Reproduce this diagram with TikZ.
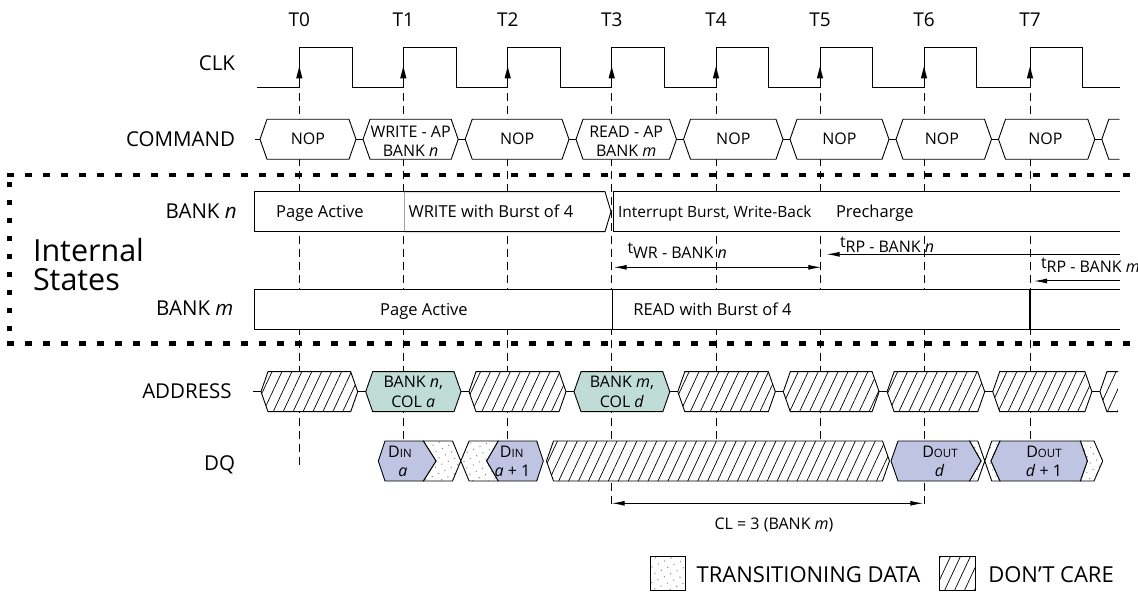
\documentclass[tikz,border=0pt]{standalone}
\usepackage{fontspec}
\setmainfont{Open Sans}
\usetikzlibrary{patterns.meta,arrows.meta}
\definecolor{addrfill}{RGB}{191,220,215}
\definecolor{dqfill}{RGB}{190,196,225}
\newcommand{\fs}[1]{\fontsize{#1}{#1}\selectfont}
% hexagonal bus segment: style, left tip, right tip, mid y, left slant, right slant
\newcommand{\hexseg}[6]{\path[#1] (#2,#4) -- ({#2+#5},{#4-20}) -- ({#3-#6},{#4-20}) -- (#3,#4) -- ({#3-#6},{#4+20}) -- ({#2+#5},{#4+20}) -- cycle;}
% open-ended bus segment: style, left tip, end x, mid y, slant
\newcommand{\openseg}[5]{\path[#1] (#3,{#4-20}) -- ({#2+#5},{#4-20}) -- (#2,#4) -- ({#2+#5},{#4+20}) -- (#3,{#4+20});}
% transition (X) region
\newcommand{\xtrans}[7]{\path[tr] (#1,{#7-20}) -- ({#3-#4},{#7-20}) -- (#3,#7) -- ({#3+#4},{#7-20}) -- (#2,{#7-20}) -- ({#2-#6},#7) -- (#2,{#7+20}) -- ({#3+#4},{#7+20}) -- (#3,#7) -- ({#3-#4},{#7+20}) -- (#1,{#7+20}) -- ({#1+#5},#7) -- cycle;}
\tikzset{
  every node/.style={inner sep=0pt, outer sep=0pt},
  wire/.style={draw, line width=0.9pt, line join=miter},
  tick/.style={line width=0.8pt, dash pattern=on 8pt off 5pt},
  border/.style={line width=4.5pt, dash pattern=on 7pt off 11pt},
  vborder/.style={line width=4.5pt, dash pattern=on 5pt off 13pt},
  wbox/.style={wire, fill=white},
  dc/.style={wire, preaction={fill=white}, pattern={Lines[angle=65,distance=9pt,line width=0.7pt]}, pattern color=black},
  tr/.style={wire, preaction={fill=white}, pattern={Dots[distance=7pt,radius=0.75pt,angle=25]}, pattern color=black!45},
  abox/.style={wire, fill=addrfill},
  dbox/.style={wire, fill=dqfill},
  arr/.style={line width=1pt},
  arrtip/.tip={Latex[length=13pt,width=5pt]},
  tl/.style={font=\fs{19}},
  lbl/.style={font=\fs{20.5}},
  cmdt/.style={font=\fs{16}},
  st/.style={font=\fs{16.5}},
  tt/.style={font=\fs{16}},
  big/.style={font=\fs{30.5}},
  leg/.style={font=\fs{22}},
}
\begin{document}
\begin{tikzpicture}[x=1pt,y=-1pt]
\useasboundingbox (0,0) rectangle (1138,593);
\clip (0,0) rectangle (1138,593);
\def\Tlist{299.3,403.3,507.7,611.7,716,820,924,1030}

% clock edge labels
\foreach \x [count=\i from 0] in \Tlist {\node[tl, anchor=base] (T\i) at (\x,26.8) {T\i};}

% vertical dashed reference lines
\foreach \x/\yb in {299.3/468, 403.3/481, 507.7/481, 611.7/505, 716/481, 820/481, 924/505, 1030/481}
  \draw[tick] (\x,93) -- (\x,\yb);

% clock
\draw[wire, fill=none] (257,87.3) \foreach \x in \Tlist { -- (\x,87.3) -- (\x,47.7) -- ({\x+52.7},47.7) -- ({\x+52.7},87.3) } -- (1119.5,87.3);
\foreach \x in \Tlist {\fill (\x,66.5) -- ({\x-3.2},78.5) -- ({\x+3.2},78.5) -- cycle;}

% row labels
\node[lbl, anchor=base east] (lclk) at (235,70.5) {CLK};
\node[lbl, anchor=base east] (lcmd) at (235,146.5) {COMMAND};
\node[lbl, anchor=base east] (lbn) at (236.7,219) {BANK \textit{n}};
\node[lbl, anchor=base east] (lbm) at (233.3,316) {BANK \textit{m}};
\node[lbl, anchor=base east] (ladr) at (231.7,399) {ADDRESS};
\node[lbl, anchor=base east] (ldq) at (235,470) {DQ};
\node[big, anchor=base west] (lint) at (33,261.7) {Internal};
\node[big, anchor=base west] (lsta) at (33,291) {States};

% internal states border
\draw[border] (7,175) -- (1138,175);
\draw[border] (7,343.3) -- (1138,343.3);
\draw[vborder] (9.5,182) -- (9.5,340);

% COMMAND row
\def\cy{139.3}
\draw[wire] (255,\cy) -- (260,\cy);
\foreach \l/\r in {260/356, 363/458.2, 465.2/569, 576/676.5, 683.5/783, 790/889, 896/991.5, 998.5/1094.8}
  {\hexseg{wbox}{\l}{\r}{\cy}{7}{7}}
\foreach \r/\l in {356/363, 458.2/465.2, 569/576, 676.5/683.5, 783/790, 889/896, 991.5/998.5, 1094.8/1101.8}
  \draw[wire] (\r,\cy) -- (\l,\cy);
\fill[white] (1108.8,119.3) rectangle (1119.5,159.3);
\openseg{wire}{1101.8}{1119.5}{\cy}{7}
\node[cmdt, anchor=base] (c0) at (308,145) {NOP};
\node[cmdt, anchor=base] (c1a) at (410.6,137.4) {WRITE - AP};
\node[cmdt, anchor=base] (c1b) at (410.6,156.6) {BANK \textit{n}};
\node[cmdt, anchor=base] (c2) at (517.1,145) {NOP};
\node[cmdt, anchor=base] (c3a) at (626.2,137.4) {READ - AP};
\node[cmdt, anchor=base] (c3b) at (626.2,156.6) {BANK \textit{m}};
\node[cmdt, anchor=base] (c4) at (733.3,145) {NOP};
\node[cmdt, anchor=base] (c5) at (839.5,145) {NOP};
\node[cmdt, anchor=base] (c6) at (942,145) {NOP};
\node[cmdt, anchor=base] (c7) at (1045.5,145) {NOP};

% BANK n row
\draw[wbox] (254.3,191.7) rectangle (404.3,231.7);
\draw[wbox] (404.3,191.7) -- (605,191.7) -- (611,211.7) -- (605,231.7) -- (404.3,231.7);
\draw[wbox] (613.5,191.7) rectangle (822,231.7);
\fill[white] (822,191.7) rectangle (1119.5,231.7);
\draw[wire] (822,191.7) -- (1119.5,191.7);
\draw[wire] (822,231.7) -- (1119.5,231.7);
\node[st, anchor=base] (pa1) at (320,217.6) {Page Active};
\node[st, anchor=base west] (wb) at (408.5,217.6) {WRITE with Burst of 4};
\node[st, anchor=base west, font=\fs{15.5}] (ib) at (618,217.6) {Interrupt Burst, Write-Back};
\node[st, anchor=base west] (pc) at (836,217.6) {Precharge};

% timing parameters
\node[tt, anchor=base west] (twr) at (627.5,258.4) {\raisebox{4.5pt}{t}WR - BANK \textit{n}};
\node[tt, anchor=base west] (trpn) at (840,252.4) {\raisebox{4.5pt}{t}RP - BANK \textit{n}};
\node[tt, anchor=base west] (trpm) at (1041,273) {\raisebox{4.5pt}{t}RP - BANK \textit{m}};
\coordinate (wra) at (613.7,267.3);
\coordinate (wrb) at (821.3,267.3);
\coordinate (rpna) at (826.5,254.3);
\coordinate (rpnb) at (1119.5,254.3);
\coordinate (rpma) at (1034,281);
\coordinate (rpmb) at (1119.5,281);
\draw[arr, arrtip-arrtip] (wra) -- (wrb);
\draw[arr, arrtip-] (rpna) -- (rpnb);
\draw[arr, arrtip-] (rpma) -- (rpmb);

% BANK m row
\draw[wbox] (254.3,289.3) rectangle (612.5,329.3);
\fill[white] (612.5,289.3) rectangle (1119.5,329.3);
\draw[wire] (612.5,289.3) -- (1119.5,289.3);
\draw[wire] (612.5,329.3) -- (1119.5,329.3);
\draw[line width=1.7pt] (612.5,289.3) -- (612.5,329.3);
\draw[line width=1.7pt] (1030,289.3) -- (1030,329.3);
\node[st, anchor=base] (pa2) at (424,315.2) {Page Active};
\node[st, anchor=base west] (rb) at (633.4,315.2) {READ with Burst of 4};

% ADDRESS row
\def\ay{391.7}
\draw[wire] (253,\ay) -- (261,\ay);
\foreach \l/\r in {261/357.7, 469/566, 677.8/775.3, 783.3/879.1, 887.1/984.7, 992.7/1091.9}
  {\hexseg{dc}{\l}{\r}{\ay}{7}{7}}
\hexseg{abox}{365.7}{461}{\ay}{7}{7}
\hexseg{abox}{574}{669.8}{\ay}{7}{7}
\foreach \r/\l in {357.7/365.7, 461/469, 566/574, 669.8/677.8, 775.3/783.3, 879.1/887.1, 984.7/992.7, 1091.9/1099.9}
  \draw[wire] (\r,\ay) -- (\l,\ay);
\openseg{dc}{1099.9}{1118}{\ay}{7}
\node[cmdt, anchor=base] (a1a) at (413.3,387.4) {BANK \textit{n},};
\node[cmdt, anchor=base] (a1b) at (413.3,407.4) {COL \textit{a}};
\node[cmdt, anchor=base] (a3a) at (621.9,387.4) {BANK \textit{m},};
\node[cmdt, anchor=base] (a3b) at (621.9,407.4) {COL \textit{d}};

% DQ row
\def\dy{461}
\xtrans{423.3}{498.3}{460.8}{8.3}{12.7}{11.6}{\dy}
\xtrans{969.5}{1000}{984.75}{7}{11.5}{9}{\dy}
\path[tr] (1080.3,441) -- (1094,441) -- (1102.7,461) -- (1094,481) -- (1080.3,481) -- (1087.3,461) -- cycle;
\hexseg{dbox}{378.3}{436}{\dy}{6.7}{12.7}
\hexseg{dbox}{486.7}{543.3}{\dy}{11.6}{6.6}
\hexseg{dc}{546.5}{889.5}{\dy}{7}{7}
\hexseg{dbox}{891}{981}{\dy}{7}{11.5}
\hexseg{dbox}{991}{1087.3}{\dy}{9}{7}
\node[cmdt, anchor=base] (d1a) at (400,457.4) {D{\fs{11.5}IN}};
\node[cmdt, anchor=base] (d1b) at (403,476.5) {\textit{a}};
\node[cmdt, anchor=base] (d2a) at (511.7,457.4) {D{\fs{11.5}IN}};
\node[cmdt, anchor=base] (d2b) at (512.5,476.5) {\textit{a} + 1};
\node[cmdt, anchor=base] (d3a) at (940,457.4) {D{\fs{11.5}OUT}};
\node[cmdt, anchor=base] (d3b) at (939.7,476.5) {\textit{d}};
\node[cmdt, anchor=base] (d4a) at (1044,457.4) {D{\fs{11.5}OUT}};
\node[cmdt, anchor=base] (d4b) at (1044,476.5) {\textit{d} + 1};

% CAS latency
\coordinate (cla) at (611.7,503.3);
\coordinate (clb) at (923.3,503.3);
\draw[arr, arrtip-arrtip] (cla) -- (clb);
\node[cmdt, anchor=base] (cl) at (774,529) {CL = 3 (BANK \textit{m})};

% legend
\draw[tr] (650,556) rectangle (685,590);
\node[leg, anchor=base west] (ltr) at (696.7,582) {TRANSITIONING DATA};
\draw[dc] (939.3,556) rectangle (975,590);
\node[leg, anchor=base west] (ldc) at (988.3,582) {DON’T CARE};
\end{tikzpicture}
\end{document}
